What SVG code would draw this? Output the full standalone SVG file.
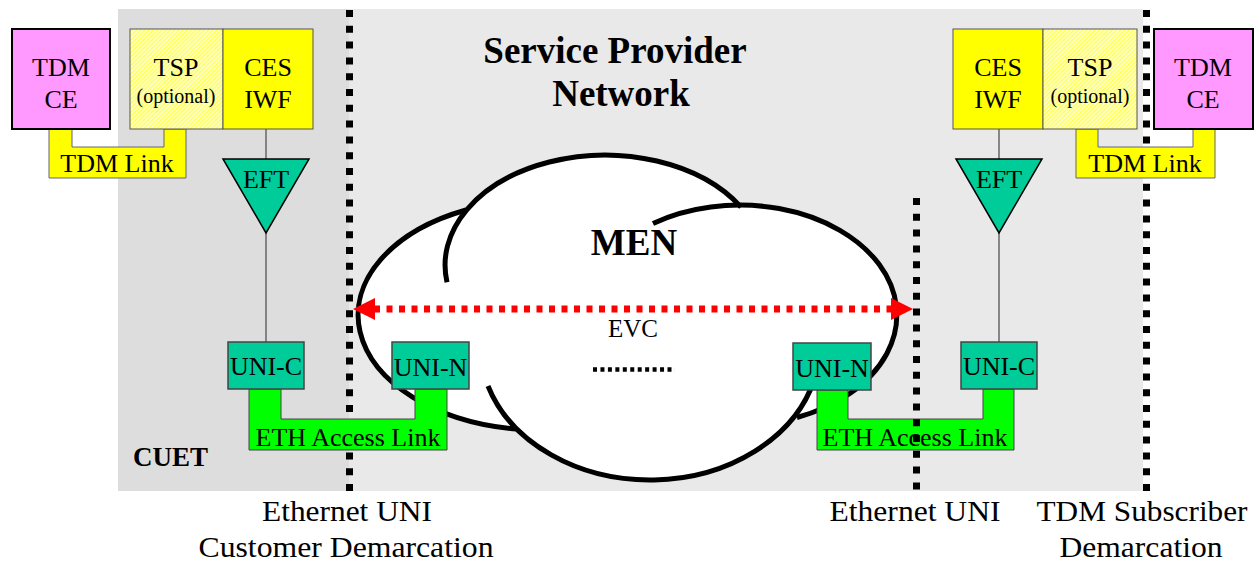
<svg xmlns="http://www.w3.org/2000/svg" width="1260" height="563" viewBox="0 0 1260 563">
<style>
text{font-family:"Liberation Serif","Times New Roman",serif;fill:#000;text-anchor:middle}
.t26{font-size:26px}
.t20{font-size:20px}
.b{font-weight:bold}
.bot{font-size:29px}
.ce{fill:#ff99ff;stroke:#000;stroke-width:2}
.ces{fill:#ffff00;stroke:#555;stroke-width:1}
.tsp{fill:url(#hatch);stroke:#555;stroke-width:1}
.tdmlink{fill:#ffff00;stroke:#666;stroke-width:1}
.eth{fill:#00ff00;stroke:#444;stroke-width:1}
.uni{fill:#00cc99;stroke:#444;stroke-width:1.5}
.eft{fill:#00cc99;stroke:#000;stroke-width:1.5}
.vline{stroke:#666;stroke-width:1.5;fill:none}
.demarc{stroke:#000;stroke-width:7;stroke-dasharray:7 8.8;fill:none}
.evc{stroke:#ff0000;stroke-width:7;stroke-dasharray:6 6.5;fill:none}
.evchead{fill:#ff0000}
.cloudfill{fill:#fff;stroke:none}
.cloudline{fill:none;stroke:#000;stroke-width:5}
</style>
<defs>
<pattern id="hatch" width="3" height="3" patternUnits="userSpaceOnUse" patternTransform="rotate(45)">
<rect width="3" height="3" fill="#ffffd8"/>
<rect width="1.4" height="3" fill="#ffff4a"/>
</pattern>
</defs>

<g id="background">
<rect x="118" y="9" width="231" height="482" fill="#dddddd"/>
<rect x="349" y="9" width="794" height="482" fill="#e9e9e9"/>
</g>

<g id="demarcation-lines-back">
<line class="demarc" x1="349.5" y1="10" x2="349.5" y2="491"/>
<line class="demarc" x1="1146.5" y1="10" x2="1146.5" y2="491"/>
</g>

<g id="men-cloud">
<ellipse class="cloudfill" cx="540" cy="315" rx="182" ry="115"/>
<ellipse class="cloudfill" cx="605" cy="265" rx="160" ry="110"/>
<ellipse class="cloudfill" cx="740" cy="315" rx="157" ry="110"/>
<ellipse class="cloudfill" cx="650" cy="345" rx="170" ry="135"/>
<path class="cloudline" d="M466 210 A182 115 0 0 0 517 429.1"/>
<path class="cloudline" d="M447 282.2 A160 110 0 0 1 741 207.1"/>
<path class="cloudline" d="M653 223.4 A157 110 0 1 1 797 417.5"/>
<path class="cloudline" d="M488 386 A170 135 0 0 0 814.2 379.9"/>
<text class="b" x="634" y="255" style="font-size:37px">MEN</text>
<line x1="593" y1="369.5" x2="675" y2="369.5" stroke="#000" stroke-width="4.5" stroke-dasharray="4 3.45"/>
</g>

<g id="title">
<text class="b" x="615" y="63" style="font-size:37px">Service Provider</text>
<text class="b" x="621" y="106" style="font-size:37px">Network</text>
</g>

<g id="connectors">
<line class="vline" x1="266" y1="129" x2="266" y2="159"/>
<line class="vline" x1="266" y1="233" x2="266" y2="342"/>
<line class="vline" x1="999" y1="129" x2="999" y2="159"/>
<line class="vline" x1="999" y1="233" x2="999" y2="342"/>
<g id="tdm-link-left">
<path class="tdmlink" d="M49 129 H72 V147 H164 V129 H186 V178 H49 Z"/>
<text class="t26" x="117" y="172">TDM Link</text>
</g>
<g id="tdm-link-right">
<path class="tdmlink" d="M1076 129 H1098 V147 H1193 V129 H1215 V178 H1076 Z"/>
<text class="t26" x="1145" y="172">TDM Link</text>
</g>
<g id="eth-link-left">
<path class="eth" d="M249 389 H281 V419 H415 V389 H447 V450 H249 Z"/>
<text class="t26" x="348" y="446">ETH Access Link</text>
</g>
<g id="eth-link-right">
<path class="eth" d="M817 390 H848 V419 H983 V389 H1014 V450 H817 Z"/>
<text class="t26" x="915" y="446">ETH Access Link</text>
</g>
<g id="evc">
<line class="evc" x1="374" y1="309" x2="892" y2="309"/>
<polygon class="evchead" points="353,309 375,298 375,320"/>
<polygon class="evchead" points="913,309 891,298 891,320"/>
<text x="633" y="337" style="font-size:25px">EVC</text>
</g>
</g>

<g id="tdm-ce-left">
<rect class="ce" x="12" y="29" width="98" height="100"/>
<text class="t26" x="61" y="76">TDM</text>
<text class="t26" x="61" y="108">CE</text>
</g>
<g id="tsp-left">
<rect class="tsp" x="130" y="29" width="93" height="100"/>
<text class="t26" x="176" y="76">TSP</text>
<text class="t20" x="176" y="103">(optional)</text>
</g>
<g id="ces-iwf-left">
<rect class="ces" x="223" y="29" width="90" height="100"/>
<text class="t26" x="268" y="76">CES</text>
<text class="t26" x="268" y="108">IWF</text>
</g>
<g id="eft-left">
<polygon class="eft" points="223,159 309,159 266,233"/>
<text class="t26" x="266" y="188">EFT</text>
</g>
<g id="uni-c-left">
<rect class="uni" x="228" y="342" width="76" height="47"/>
<text class="t26" x="266" y="375">UNI-C</text>
</g>
<g id="uni-n-left">
<rect class="uni" x="392" y="342" width="77" height="47"/>
<text class="t26" x="430.5" y="376">UNI-N</text>
</g>
<g id="cuet">
<text class="b" x="133" y="466" style="font-size:27px;text-anchor:start">CUET</text>
</g>

<g id="ces-iwf-right">
<rect class="ces" x="953" y="29" width="90" height="100"/>
<text class="t26" x="998" y="76">CES</text>
<text class="t26" x="998" y="108">IWF</text>
</g>
<g id="tsp-right">
<rect class="tsp" x="1043" y="29" width="94" height="100"/>
<text class="t26" x="1090" y="76">TSP</text>
<text class="t20" x="1090" y="103">(optional)</text>
</g>
<g id="tdm-ce-right">
<rect class="ce" x="1154" y="29" width="99" height="100"/>
<text class="t26" x="1203" y="76">TDM</text>
<text class="t26" x="1203" y="108">CE</text>
</g>
<g id="eft-right">
<polygon class="eft" points="956,159 1042,159 999,233"/>
<text class="t26" x="999" y="188">EFT</text>
</g>
<g id="uni-n-right">
<rect class="uni" x="793" y="343" width="78" height="47"/>
<text class="t26" x="832" y="377">UNI-N</text>
</g>
<g id="uni-c-right">
<rect class="uni" x="961" y="342" width="76" height="47"/>
<text class="t26" x="999" y="375">UNI-C</text>
</g>

<g id="demarcation-line-front">
<line class="demarc" x1="916.5" y1="198" x2="916.5" y2="491"/>
</g>

<g id="demarcation-labels">
<text class="bot" x="347" y="521" textLength="170" lengthAdjust="spacingAndGlyphs">Ethernet UNI</text>
<text class="bot" x="346" y="557" textLength="295" lengthAdjust="spacingAndGlyphs">Customer Demarcation</text>
<text class="bot" x="915" y="521" textLength="171" lengthAdjust="spacingAndGlyphs">Ethernet UNI</text>
<text class="bot" x="1142" y="521" textLength="211" lengthAdjust="spacingAndGlyphs">TDM Subscriber</text>
<text class="bot" x="1141" y="557" textLength="163" lengthAdjust="spacingAndGlyphs">Demarcation</text>
</g>
</svg>
